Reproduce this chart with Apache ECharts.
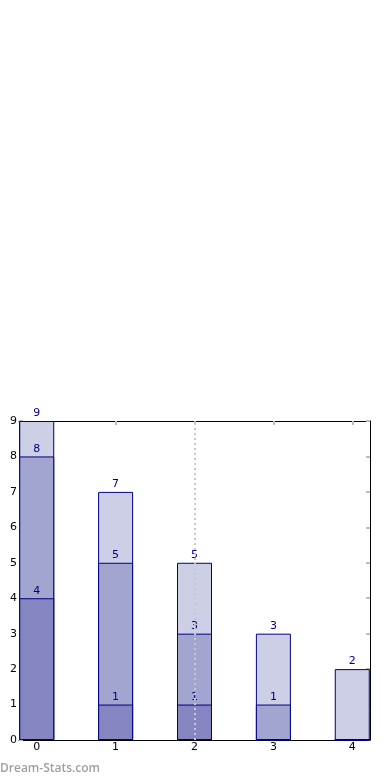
<!DOCTYPE html>
<html><head><meta charset="utf-8">
<script src="https://cdn.jsdelivr.net/npm/echarts@6/dist/echarts.min.js"></script>
<style>html,body{margin:0;padding:0;background:#fff}#c{width:390px;height:780px}</style>
</head><body><div id="c"></div>
<script>
var categories = [0, 1, 2, 3, 4];
var seriesDark = [4, 1, 1, 0, 0];
var seriesMid = [4, 4, 2, 1, 0];
var seriesLight = [1, 2, 2, 2, 2];
var yTicks = [0, 1, 2, 3, 4, 5, 6, 7, 8, 9];

var chart = echarts.init(document.getElementById('c'));
var layers = [seriesDark, seriesMid, seriesLight];
var colors = ['#8585c2', '#a3a5d1', '#cdcfe6'];
var cum = categories.map(function(){return 0;});
var built = layers.map(function(arr, i){
  var tops = arr.map(function(v, j){ cum[j] += v; return cum[j]; });
  return {
    type: 'bar', barWidth: 35, barGap: '-100%', z: 2,
    data: tops.map(function(t, j){ return [categories[j], t]; }),
    itemStyle: {color: colors[i], borderColor: '#000080', borderWidth: 1},
    label: {show: true, position: 'top', distance: 2, color: '#000080',
      fontFamily: 'DejaVu Sans', fontSize: 11,
      formatter: function(p){ return arr[p.dataIndex] ? String(tops[p.dataIndex]) : ''; }}
  };
});
var series = built.slice().reverse();
series[series.length - 1].markLine = {silent: true, symbol: 'none', label: {show: false},
  lineStyle: {color: '#c8c8c8', type: [2, 3], width: 2}, data: [{xAxis: 2}]};

var tickStyle = {show: true, inside: true, length: 4, lineStyle: {color: '#bbbbbb', width: 2}};
var line = {show: true, onZero: false, lineStyle: {color: '#000', width: 1}};
chart.setOption({
  animation: false,
  grid: {left: 19, right: 20, top: 421, bottom: 40, show: false},
  graphic: [{type: 'text', left: 0, top: 763,
    style: {text: 'Dream-Stats.com', fill: '#a0a0a0', font: '600 12px "Open Sans"'}}],
  xAxis: [
    {type: 'value', min: -0.225, max: 4.225, position: 'bottom',
     axisLine: line,
     axisTick: Object.assign({}, tickStyle, {customValues: categories}), splitLine: {show: false},
     axisLabel: {color: '#000', fontFamily: 'DejaVu Sans', fontSize: 11, margin: 2,
       customValues: categories}},
    {type: 'value', min: -0.225, max: 4.225, position: 'top',
     axisLine: line,
     axisTick: Object.assign({}, tickStyle, {customValues: categories}), axisLabel: {show: false}, splitLine: {show: false}}
  ],
  yAxis: [
    {type: 'value', min: 0, max: 9, interval: 1, position: 'left',
     axisLine: line,
     axisTick: tickStyle, splitLine: {show: false},
     axisLabel: {color: '#000', fontFamily: 'DejaVu Sans', fontSize: 11, margin: 2,
       formatter: function(v){ return yTicks.indexOf(v) >= 0 ? String(v) : ''; }}},
    {type: 'value', min: 0, max: 9, interval: 1, position: 'right',
     axisLine: line,
     axisTick: tickStyle, axisLabel: {show: false}, splitLine: {show: false}}
  ],
  series: series
});
</script></body></html>
